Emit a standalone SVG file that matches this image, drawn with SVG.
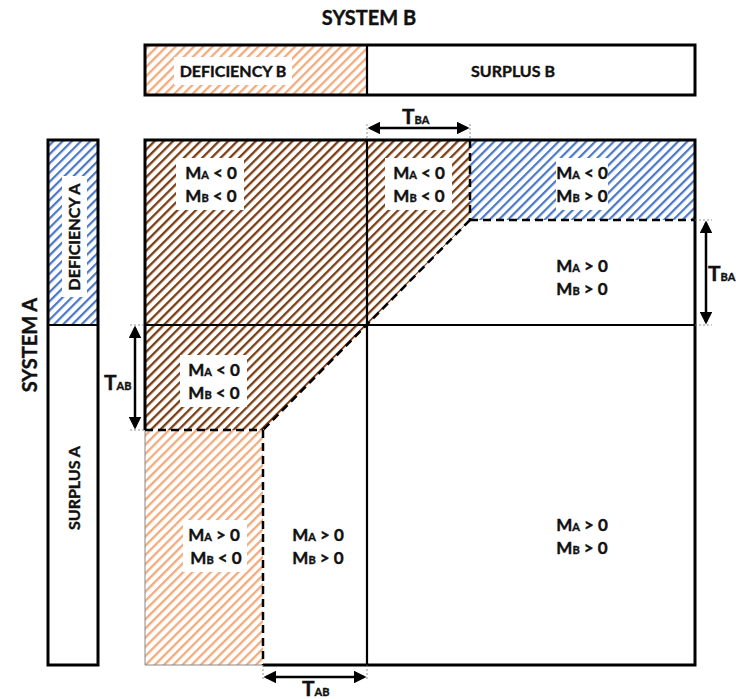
<svg xmlns="http://www.w3.org/2000/svg" width="736" height="699" viewBox="0 0 736 699">
<style>
text{font-family:Lato,"Liberation Sans",sans-serif;font-weight:bold;fill:#111;stroke:#111;stroke-width:0.4}
.lbl{font-size:17px;text-anchor:middle}
.sub{font-size:11px}
.title{font-size:20px;text-anchor:middle}
.bar{font-size:16px;text-anchor:middle}
.t{font-size:21px}
.tsub{font-size:11px}
.bg{fill:#fff}
.thick{fill:none;stroke:#000;stroke-width:3}
.mid{fill:none;stroke:#000;stroke-width:2.2}
.dash{fill:none;stroke:#000;stroke-width:2.5;stroke-dasharray:8,5}
.ext{fill:none;stroke:#777;stroke-width:0.8;stroke-dasharray:2,2}
.arr{fill:none;stroke:#000;stroke-width:2.5;marker-start:url(#ah);marker-end:url(#ah)}
</style>
<defs>
<pattern id="brown" width="6.5" height="6.5" patternUnits="userSpaceOnUse" patternTransform="rotate(45)">
<rect width="6.5" height="6.5" fill="#fff"/><rect width="2.3" height="6.5" fill="#7b3e14"/>
</pattern>
<pattern id="blue" width="6.5" height="6.5" patternUnits="userSpaceOnUse" patternTransform="rotate(45)">
<rect width="6.5" height="6.5" fill="#fff"/><rect width="2.2" height="6.5" fill="#4a78c6"/>
</pattern>
<pattern id="orange" width="6.5" height="6.5" patternUnits="userSpaceOnUse" patternTransform="rotate(45)">
<rect width="6.5" height="6.5" fill="#fff"/><rect width="2.3" height="6.5" fill="#f2ab7c"/>
</pattern>
<marker id="ah" markerWidth="5" markerHeight="5" refX="4" refY="2.5" orient="auto-start-reverse" markerUnits="strokeWidth">
<path d="M0,0 L5,2.5 L0,5 z" fill="#000"/>
</marker>
</defs>

<g id="system-b-title"><text class="title" x="369" y="25">SYSTEM B</text></g>
<g id="system-a-title"><text class="title" transform="translate(37,345) rotate(-90)">SYSTEM A</text></g>

<g id="bar-b">
<rect x="145" y="45" width="222" height="50" fill="url(#orange)"/>
<rect x="174" y="57" width="118" height="28" class="bg"/>
<text class="bar" x="233" y="77">DEFICIENCY B</text>
<text class="bar" x="513" y="77">SURPLUS B</text>
<line x1="367" y1="45" x2="367" y2="95" class="mid"/>
<rect x="145" y="45" width="550" height="50" class="thick"/>
</g>

<g id="bar-a">
<rect x="48" y="140" width="50" height="185" fill="url(#blue)"/>
<rect x="62" y="176" width="25" height="121" class="bg"/>
<text class="bar" transform="translate(80,237) rotate(-90)">DEFICIENCY A</text>
<text class="bar" transform="translate(80,488) rotate(-90)">SURPLUS A</text>
<line x1="48" y1="325" x2="98" y2="325" class="mid"/>
<rect x="48" y="140" width="50" height="525" class="thick"/>
</g>

<g id="region-brown">
<polygon points="145,140 470,140 470,220 367,325 263,430 145,430" fill="url(#brown)"/>
</g>
<g id="region-blue">
<rect x="470" y="140" width="225" height="80" fill="url(#blue)"/>
</g>
<g id="region-orange">
<rect x="145" y="430" width="118" height="235" fill="url(#orange)"/>
<polyline points="145,430 145,665 263,665" fill="none" stroke="#888" stroke-width="1"/>
</g>

<g id="grid">
<polyline points="145,430 145,140 695,140 695,665 263,665" class="thick"/>
<line x1="145" y1="325" x2="695" y2="325" class="mid"/>
<line x1="367" y1="140" x2="367" y2="665" class="mid"/>
<line x1="470" y1="140" x2="470" y2="220" class="dash"/>
<line x1="470" y1="220" x2="695" y2="220" class="dash"/>
<line x1="470" y1="220" x2="263" y2="430" class="dash"/>
<line x1="145" y1="430" x2="263" y2="430" class="dash"/>
<line x1="263" y1="430" x2="263" y2="665" class="dash"/>
</g>

<g id="cell-1">
<rect x="176" y="158" width="68" height="52" class="bg"/>
<text class="lbl" x="211" y="179">M<tspan class="sub">A</tspan> &lt; 0</text>
<text class="lbl" x="211" y="202">M<tspan class="sub">B</tspan> &lt; 0</text>
</g>
<g id="cell-2">
<rect x="385" y="158" width="67" height="52" class="bg"/>
<text class="lbl" x="419" y="179">M<tspan class="sub">A</tspan> &lt; 0</text>
<text class="lbl" x="419" y="202">M<tspan class="sub">B</tspan> &lt; 0</text>
</g>
<g id="cell-3">
<rect x="556" y="158" width="52" height="52" class="bg"/>
<text class="lbl" x="582" y="179">M<tspan class="sub">A</tspan> &lt; 0</text>
<text class="lbl" x="582" y="202">M<tspan class="sub">B</tspan> &gt; 0</text>
</g>
<g id="cell-4">
<text class="lbl" x="582" y="272">M<tspan class="sub">A</tspan> &gt; 0</text>
<text class="lbl" x="582" y="295">M<tspan class="sub">B</tspan> &gt; 0</text>
</g>
<g id="cell-5">
<rect x="180" y="355" width="67" height="52" class="bg"/>
<text class="lbl" x="214" y="376">M<tspan class="sub">A</tspan> &lt; 0</text>
<text class="lbl" x="214" y="399">M<tspan class="sub">B</tspan> &lt; 0</text>
</g>
<g id="cell-6">
<rect x="183" y="520" width="64" height="52" class="bg"/>
<text class="lbl" x="214" y="541">M<tspan class="sub">A</tspan> &gt; 0</text>
<text class="lbl" x="216" y="564">M<tspan class="sub">B</tspan> &lt; 0</text>
</g>
<g id="cell-7">
<text class="lbl" x="318" y="541">M<tspan class="sub">A</tspan> &gt; 0</text>
<text class="lbl" x="318" y="564">M<tspan class="sub">B</tspan> &gt; 0</text>
</g>
<g id="cell-8">
<text class="lbl" x="582" y="531">M<tspan class="sub">A</tspan> &gt; 0</text>
<text class="lbl" x="582" y="554">M<tspan class="sub">B</tspan> &gt; 0</text>
</g>

<g id="connectors">
<line x1="367" y1="124" x2="367" y2="140" class="ext"/>
<line x1="470" y1="124" x2="470" y2="140" class="ext"/>
<line x1="370" y1="128" x2="467" y2="128" class="arr"/>
<line x1="695" y1="220" x2="712" y2="220" class="ext"/>
<line x1="695" y1="325" x2="712" y2="325" class="ext"/>
<line x1="706" y1="223" x2="706" y2="322" class="arr"/>
<line x1="130" y1="325" x2="145" y2="325" class="ext"/>
<line x1="130" y1="430" x2="145" y2="430" class="ext"/>
<line x1="135" y1="328" x2="135" y2="427" class="arr"/>
<line x1="263" y1="665" x2="263" y2="681" class="ext"/>
<line x1="367" y1="665" x2="367" y2="681" class="ext"/>
<line x1="266" y1="677" x2="364" y2="677" class="arr"/>
</g>

<g id="t-labels">
<text class="t" x="402" y="124">T<tspan class="tsub">BA</tspan></text>
<text class="t" x="708" y="281">T<tspan class="tsub">BA</tspan></text>
<text class="t" x="104" y="390">T<tspan class="tsub">AB</tspan></text>
<text class="t" x="302" y="696">T<tspan class="tsub">AB</tspan></text>
</g>
</svg>
